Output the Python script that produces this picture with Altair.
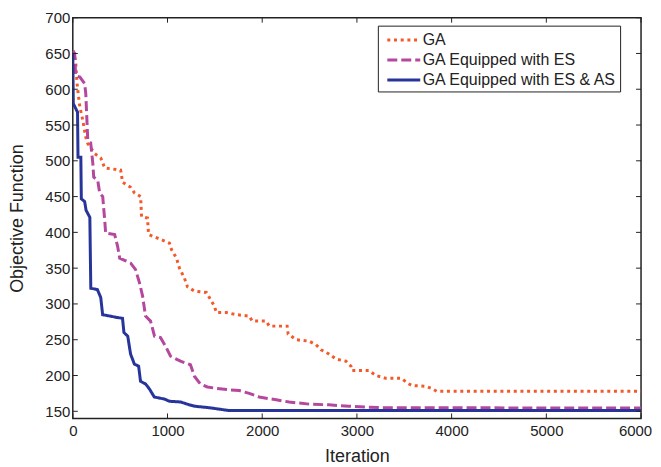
import altair as alt
import pandas as pd

# ---- data ----
series_names = ["GA", "GA Equipped with ES", "GA Equipped with ES & AS"]

ga_x = [0, 30, 45, 60, 75, 105, 137, 158, 232, 295, 337, 505, 526, 611, 653, 716, 726, 789,
        800, 895, 1021, 1042, 1095, 1126, 1179, 1211, 1284, 1411, 1442, 1495, 1516, 1621,
        1726, 1863, 1895, 2042, 2074, 2263, 2274, 2358, 2495, 2568, 2621, 2705, 2779, 2884,
        2937, 2947, 3126, 3200, 3305, 3474, 3526, 3579, 3726, 3789, 3842, 6000]
ga_y = [654, 640, 608, 590, 575, 557, 533, 524, 510, 504, 490, 487, 470, 463, 455, 450, 422, 420,
        397, 392, 385, 376, 364, 350, 336, 324, 318, 316, 309, 297, 288, 288,
        285, 283, 276, 276, 269, 269, 258, 250, 248, 243, 236, 230, 223, 220,
        213, 207, 207, 200, 196, 196, 190, 186, 185, 182, 178, 178]

es_x = [0, 20, 30, 75, 125, 137, 158, 189, 211, 221, 263, 284, 316, 337, 347, 442, 474, 495,
        547, 611, 663, 705, 737, 768, 821, 863, 926, 979, 1032, 1137, 1242, 1284, 1347, 1421,
        1516, 1653, 1758, 1863, 1968, 2147, 2284, 2495, 2705, 2916, 3263, 6000]
es_y = [654, 650, 619, 617, 608, 594, 529, 525, 497, 477, 473, 455, 450, 417, 399, 397, 380, 364,
        361, 357, 348, 329, 311, 283, 276, 255, 253, 241, 227, 220, 215, 199, 188, 184,
        182, 180, 179, 175, 170, 166, 163, 160, 159, 157, 155, 154.5]

esas_x = [0, 5, 50, 55, 85, 90, 125, 140, 180, 190, 260, 295, 315, 470, 525, 540, 580, 610,
          650, 695, 715, 770, 810, 860, 970, 1020, 1140, 1230, 1290, 1440, 1650, 6000]
esas_y = [650, 580, 568, 505, 505, 447, 443, 431, 421, 322, 320, 309, 285, 281, 280, 260, 255, 230,
          216, 213, 192, 188, 181, 170, 167, 164, 163, 159, 157, 155, 151, 151]

x_ticks = [0, 1000, 2000, 3000, 4000, 5000, 6000]
y_ticks = [150, 200, 250, 300, 350, 400, 450, 500, 550, 600, 650, 700]

# ---- styles ----
series_colors = ["#F4592A", "#B5479F", "#27359A"]
series_dash = [[3, 3.7], [10, 4], [1, 0]]
FONT = "Liberation Sans"
INK = "#222222"
W, H = 570, 402

rows = []
for name, xs, ys in zip(series_names, [ga_x, es_x, esas_x], [ga_y, es_y, esas_y]):
    for i, (a, b) in enumerate(zip(xs, ys)):
        rows.append({"series": name, "iteration": a, "objective": b, "order": i})
df = pd.DataFrame(rows)

xscale = alt.Scale(domain=[0, 6000], nice=False, zero=False)
yscale = alt.Scale(domain=[140, 700], nice=False, zero=False)

x_axis = alt.Axis(title="Iteration", values=x_ticks, format="d", labelPadding=5,
                  labelFlush=False, labelOverlap=False, titlePadding=9, titleFontSize=18,
                  labelOffset={"condition": {"test": "datum.value == 6000", "value": -6}, "value": 0})
y_axis = alt.Axis(title="Objective Function", values=y_ticks, format="d",
                  labelFlush=False, labelOverlap=False,
                  labelPadding=3, titlePadding=18, titleFontSize=18)

leg = alt.Legend(
    title=None, orient="none", legendX=306, legendY=8,
    fillColor="white", strokeColor=INK, padding=3,
    symbolType="M-0.5,0H2.8", symbolSize=400, symbolStrokeWidth=3,
    labelFont=FONT, labelFontSize=16, labelColor=INK, labelOffset=19, labelLimit=400,
    rowPadding=0, cornerRadius=0,
)

lines = alt.Chart(df).mark_line(strokeWidth=3, clip=True, strokeCap="butt").encode(
    x=alt.X("iteration:Q", scale=xscale, axis=x_axis),
    y=alt.Y("objective:Q", scale=yscale, axis=y_axis),
    color=alt.Color("series:N", scale=alt.Scale(domain=series_names, range=series_colors), legend=leg),
    strokeDash=alt.StrokeDash("series:N", scale=alt.Scale(domain=series_names, range=series_dash), legend=leg),
    order="order:Q",
)

xt = pd.DataFrame({"iteration": x_ticks})
yt = pd.DataFrame({"objective": y_ticks})
tick_len = 5

bottom_ticks = alt.Chart(xt).mark_rule(color=INK, strokeWidth=1).encode(
    x=alt.X("iteration:Q", scale=xscale, axis=x_axis), y=alt.value(H), y2=alt.value(H - tick_len))
top_ticks = alt.Chart(xt).mark_rule(color=INK, strokeWidth=1).encode(
    x=alt.X("iteration:Q", scale=xscale, axis=x_axis), y=alt.value(0), y2=alt.value(tick_len))
left_ticks = alt.Chart(yt).mark_rule(color=INK, strokeWidth=1).encode(
    y=alt.Y("objective:Q", scale=yscale, axis=y_axis), x=alt.value(0), x2=alt.value(tick_len))
right_ticks = alt.Chart(yt).mark_rule(color=INK, strokeWidth=1).encode(
    y=alt.Y("objective:Q", scale=yscale, axis=y_axis), x=alt.value(W), x2=alt.value(W - tick_len))

chart = alt.layer(lines, bottom_ticks, top_ticks, left_ticks, right_ticks).properties(
    width=W, height=H,
    autosize=alt.AutoSizeParams(type="none"),
    padding={"left": 65, "top": 9, "right": 12, "bottom": 48},
).configure_view(
    stroke=INK, strokeWidth=1.5
).configure_axis(
    grid=False, ticks=False, domain=False,
    labelFont=FONT, labelFontSize=15, labelColor=INK,
    titleFont=FONT, titleColor=INK, titleFontWeight="normal",
)

chart.save("out.html", embed_options={"renderer": "svg", "actions": False})
